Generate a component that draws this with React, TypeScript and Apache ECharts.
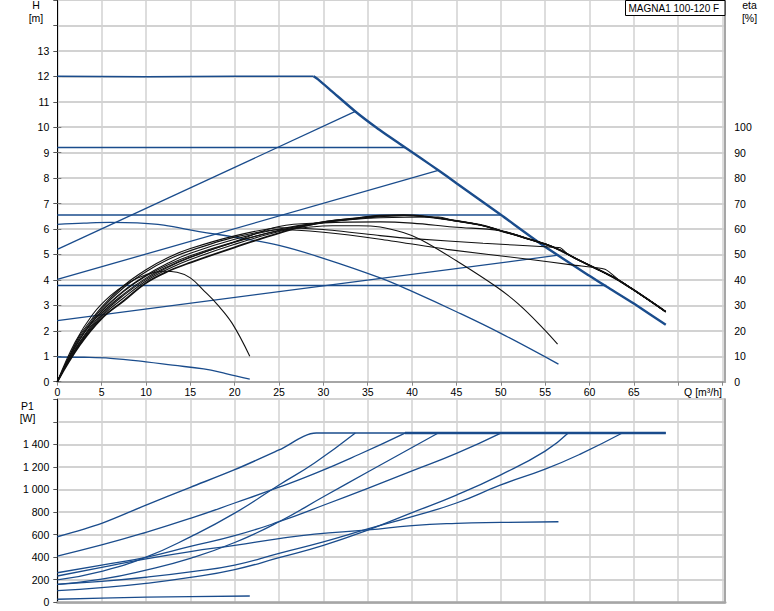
import React, { useEffect, useRef } from "react";
import * as echarts from "echarts";

// ---------- axis ranges / tick labels ----------
const Q_MIN = 0;
const Q_MAX = 75.3;
const Q_STEP = 5;
const Q_LAST_LABEL = 65;
const H_MAX = 15;
const H_LAST_LABEL = 13;
const ETA_MAX = 100;
const P_MAX = 1800;
const P_LAST_LABEL = 1400;
const TITLE = "MAGNA1 100-120 F";
const Q_UNIT = "Q [m³/h]";

// ---------- H (m) curves, [Q m³/h, H m] ----------
const maxCurveH = [[0, 12], [10, 11.98], [20, 12], [28.9, 12], [29.4, 11.88], [31, 11.4], [33.6, 10.62], [36, 9.98], [38.6, 9.35], [41, 8.78], [43, 8.3], [45, 7.8], [47.7, 7.13], [50, 6.56], [55, 5.3], [60, 4.16], [62, 3.72], [65, 3.07], [68.6, 2.24]];
const cp92H = [[0, 9.2], [39.2, 9.2]];
const cp655H = [[0, 6.55], [50, 6.55]];
const cp378H = [[0, 3.78], [61.9, 3.78]];
const ppaH = [[0, 5.2], [33.6, 10.62]];
const ppbH = [[0, 4.02], [42.95, 8.3]];
const ppcH = [[0, 2.4], [56.5, 4.97]];
const curveDH = [[0, 6.18], [3, 6.23], [6, 6.26], [9, 6.24], [12, 6.15], [16, 5.9], [20, 5.68], [25, 5.36], [30, 4.85], [36.4, 4.08], [40, 3.55], [45, 2.75], [50, 1.9], [56.5, 0.69]];
const curveEH = [[0, 0.97], [3, 0.96], [6, 0.92], [10, 0.78], [13, 0.65], [16.5, 0.5], [19, 0.32], [21.7, 0.1]];

// ---------- eta (%) curves ----------
const maxEta = [[0, 0], [2.5, 14.2], [5, 24.8], [7.5, 31.8], [10, 38.8], [12.5, 43.4], [15, 46.8], [20, 52.8], [25, 58.4], [29.2, 62.2], [33.6, 64.2], [36.4, 65.2], [39, 65.4], [42, 64.7], [44.6, 63.4], [47.7, 61.6], [50, 59.3], [53, 56.2], [55.9, 52.9], [59, 47.4], [62.7, 41], [65, 36], [68.6, 27.5]];
const cp92Eta = [[0, 0], [2.5, 14.8], [5, 25.6], [7.5, 33], [10, 39.6], [12.5, 44.3], [15, 48], [20, 54], [25, 59], [30, 62.5], [35, 64.4], [39.2, 65.3]];
const ppaEta = [[0, 0], [2.5, 15.5], [5, 26.8], [7.5, 34.5], [10, 40.7], [12.5, 45.3], [15, 49], [20, 54.8], [25, 59.5], [30, 62.8], [33.6, 64.2]];
const ppbEta = [[0, 0], [2.5, 16.6], [5, 27.8], [7.5, 35.8], [10, 41.8], [12.5, 46.6], [15, 50.5], [20, 56], [25, 60], [30, 62.6], [36.4, 64.4], [42.95, 64.7]];
const cp655Eta = [[0, 0], [2.5, 15.2], [5, 26.2], [7.5, 34], [10, 40.2], [12.5, 45], [15, 48.8], [20, 55], [25, 61], [30, 62.4], [36.4, 62.8], [40, 62.3], [44.6, 60.8], [50, 59.3]];
const ppcEta = [[0, 0], [2.5, 18], [5, 29.3], [7.5, 37.8], [10, 44], [12.5, 48.8], [15, 52.3], [20, 57.3], [25, 60.5], [30, 59.8], [36.4, 57.4], [40.1, 56.2], [48, 54.4], [55, 53], [56.7, 52.6], [57.6, 50]];
const cp378Eta = [[0, 0], [2.5, 17.3], [5, 28.6], [7.5, 37], [10, 43.2], [12.5, 48], [15, 51.5], [20, 56.8], [25, 59.8], [30, 58.7], [36.4, 56], [43.9, 52], [52.9, 48.2], [58.2, 45.8], [61.75, 44.2], [63.6, 39.1]];
const curveDEta = [[0, 0], [2.5, 16.3], [5, 27.5], [7.5, 35.5], [10, 41.5], [12.5, 46], [15, 49.5], [20, 55], [25, 59.3], [28, 60.6], [31, 61.3], [34, 61.3], [36.4, 60.8], [39, 58.6], [41, 55.8], [45, 47.5], [49.5, 37.3], [52, 30.5], [54.8, 20.9], [56.4, 14.8]];
const curveEEta = [[0, 0], [2, 15.5], [4, 26.5], [6, 33.8], [8, 38.8], [10, 42], [12, 43.4], [13.5, 43], [15, 40.8], [16.6, 35.5], [18, 30.5], [19.7, 23], [21.7, 10]];

// ---------- P1 (W) curves ----------
const maxP1 = [[0, 581], [5, 700], [10, 862], [15, 1019], [20, 1175], [25, 1350], [29.2, 1500], [68.6, 1500]];
const cp92P1 = [[0, 410], [5, 508], [10, 620], [15, 744], [20, 880], [25, 1020], [29, 1140], [34, 1310], [39.2, 1500]];
const ppaP1 = [[0, 198], [5, 275], [10, 400], [15, 580], [20, 790], [25, 1040], [29, 1235], [33.6, 1500]];
const ppbP1 = [[0, 159], [5, 205], [10, 286], [15, 390], [20, 530], [25, 714], [30, 935], [35, 1155], [42.95, 1500]];
const cp655P1 = [[0, 262], [5, 330], [10, 399], [15, 495], [20, 590], [25, 714], [30, 860], [35, 1010], [40, 1165], [45, 1320], [50, 1500]];
const ppcP1 = [[0, 103], [5, 130], [10, 168], [15, 220], [20, 290], [25, 395], [30, 505], [35, 640], [40, 795], [45, 950], [50, 1130], [55, 1340], [57.6, 1500]];
const cp378P1 = [[0, 159], [5, 185], [10, 222], [15, 270], [20, 330], [25, 434], [30, 535], [35, 650], [40, 760], [45, 880], [50, 1040], [55, 1180], [58.9, 1311], [63.7, 1500]];
const curveDP1 = [[0, 233], [5, 310], [10, 385], [15, 450], [20, 505], [25, 565], [29, 605], [35, 641], [40, 680], [45, 700], [50, 708], [56.5, 714]];
const curveEP1 = [[0, 27], [5, 37], [10, 45], [15, 51], [21.7, 56]];

// ---------- styling ----------
const BLUE = "#1a4c8c";
const BLACK = "#111111";
const GRID_C = "#d2d2d2";
const AXIS_GREY = "#a6a6a6";
const FONT = "'Liberation Sans', Arial, sans-serif";

const L = 57.3;
const W = 667.9;

const afterQ = (curve: number[][], tail: number[][]) => {
  const lastQ = curve[curve.length - 1][0];
  return curve.concat(tail.filter((p) => p[0] > lastQ));
};

const spaced = (v: number) => {
  const s = String(Math.round(v));
  return s.length > 3 ? s.slice(0, s.length - 3) + " " + s.slice(s.length - 3) : s;
};

export default function App() {
  const ref = useRef<HTMLDivElement>(null);

  useEffect(() => {
    if (!ref.current) return;
    const chart = echarts.init(ref.current, undefined, { renderer: "svg" });

    const line = (data: number[][], xi: number, yi: number, color: string, width: number, smooth: number | boolean = 0.4) => ({
      type: "line",
      data,
      xAxisIndex: xi,
      yAxisIndex: yi,
      symbol: "none",
      showSymbol: false,
      smooth,
      silent: true,
      lineStyle: { color, width },
      z: 3,
    });

    const maxFlat = maxCurveH.filter((p) => p[0] <= 28.9);
    const maxDesc = maxCurveH.filter((p) => p[0] >= 28.9);
    const p1Flat = [cp92P1[cp92P1.length - 1], maxP1[maxP1.length - 1]];

    const labelStyle = { color: "#000", fontSize: 10.5, fontFamily: FONT };
    const txt = (text: string, x: number, y: number, align = "center", size = 10.5) => ({
      type: "text",
      z: 101,
      style: { text, x, y, fill: "#000", font: `${size}px ${FONT}`, align, verticalAlign: "middle", textAlign: align, textVerticalAlign: "middle" },
    });

    const option: any = {
      animation: false,
      backgroundColor: "#ffffff",
      grid: [
        { left: L, top: 0, width: W, height: 381.7 },
        { left: L, top: 127.2, width: W, height: 254.5 },
        { left: L, top: 399.2, width: W, height: 203.1, show: true, borderColor: "#b4b4b4", borderWidth: 1 },
      ],
      xAxis: [
        {
          type: "value", gridIndex: 0, min: Q_MIN, max: Q_MAX, interval: Q_STEP,
          axisLine: { onZero: false, lineStyle: { color: AXIS_GREY, width: 2 } },
          axisTick: { show: true, length: 4, lineStyle: { color: "#888" } },
          axisLabel: { ...labelStyle, margin: 5, showMaxLabel: false, formatter: (v: number) => (v <= Q_LAST_LABEL ? String(v) : "") },
          splitLine: { show: true, lineStyle: { color: GRID_C, width: 1.5 } },
        },
        { type: "value", gridIndex: 1, min: Q_MIN, max: Q_MAX, show: false },
        {
          type: "value", gridIndex: 2, min: Q_MIN, max: Q_MAX, interval: Q_STEP,
          axisLine: { onZero: false, lineStyle: { color: AXIS_GREY, width: 2.5 } },
          axisTick: { show: false },
          axisLabel: { show: false },
          splitLine: { show: true, lineStyle: { color: GRID_C, width: 1.5 } },
        },
      ],
      yAxis: [
        {
          type: "value", gridIndex: 0, position: "left", min: 0, max: H_MAX, interval: 1,
          axisLine: { show: true, onZero: false, lineStyle: { color: "#000", width: 1 } },
          axisTick: { show: true, length: 4, lineStyle: { color: "#555" } },
          axisLabel: { ...labelStyle, margin: 8, formatter: (v: number) => (v <= H_LAST_LABEL ? String(v) : "") },
          splitLine: { show: true, lineStyle: { color: GRID_C, width: 2 } },
        },
        {
          type: "value", gridIndex: 0, position: "right", min: 0, max: H_MAX,
          axisLine: { show: true, onZero: false, lineStyle: { color: AXIS_GREY, width: 2 } },
          axisTick: { show: false }, axisLabel: { show: false }, splitLine: { show: false },
        },
        {
          type: "value", gridIndex: 1, position: "right", min: 0, max: ETA_MAX, interval: 10,
          axisLine: { show: false },
          axisTick: { show: true, length: 4, lineStyle: { color: "#777" } },
          axisLabel: { ...labelStyle, margin: 9 },
          splitLine: { show: false },
        },
        {
          type: "value", gridIndex: 2, position: "left", min: 0, max: P_MAX, interval: 200,
          axisLine: { show: true, onZero: false, lineStyle: { color: "#000", width: 1 } },
          axisTick: { show: true, length: 4, lineStyle: { color: "#555" } },
          axisLabel: { ...labelStyle, margin: 8, formatter: (v: number) => (v <= P_LAST_LABEL ? spaced(v) : "") },
          splitLine: { show: true, lineStyle: { color: GRID_C, width: 2 } },
        },
        {
          type: "value", gridIndex: 2, position: "right", min: 0, max: P_MAX,
          axisLine: { show: true, onZero: false, lineStyle: { color: AXIS_GREY, width: 2 } },
          axisTick: { show: false }, axisLabel: { show: false }, splitLine: { show: false },
        },
      ],
      series: [
        // H chart (blue)
        line(maxFlat, 0, 0, BLUE, 1.5, false),
        line(maxDesc, 0, 0, BLUE, 2.4, 0.2),
        line(cp92H, 0, 0, BLUE, 1.5, false),
        line(cp655H, 0, 0, BLUE, 1.5, false),
        line(cp378H, 0, 0, BLUE, 1.5, false),
        line(ppaH, 0, 0, BLUE, 1.3, false),
        line(ppbH, 0, 0, BLUE, 1.3, false),
        line(ppcH, 0, 0, BLUE, 1.3, false),
        line(curveDH, 0, 0, BLUE, 1.3),
        line(curveEH, 0, 0, BLUE, 1.3),
        // eta (black)
        line(maxEta, 1, 2, BLACK, 1.8),
        line(afterQ(cp92Eta, maxEta), 1, 2, BLACK, 1.1),
        line(afterQ(ppaEta, maxEta), 1, 2, BLACK, 1.1),
        line(afterQ(ppbEta, maxEta), 1, 2, BLACK, 1.1),
        line(afterQ(cp655Eta, maxEta), 1, 2, BLACK, 1.1),
        line(afterQ(ppcEta, maxEta), 1, 2, BLACK, 1.1, 0.2),
        line(afterQ(cp378Eta, maxEta), 1, 2, BLACK, 1.1, 0.2),
        line(curveDEta, 1, 2, BLACK, 1.1),
        line(curveEEta, 1, 2, BLACK, 1.1),
        // P1 (blue)
        line(maxP1, 2, 3, BLUE, 1.4, 0.3),
        line(p1Flat, 2, 3, BLUE, 2.6, false),
        line(cp92P1, 2, 3, BLUE, 1.3, 0.5),
        line(ppaP1, 2, 3, BLUE, 1.3, 0.5),
        line(ppbP1, 2, 3, BLUE, 1.3, 0.5),
        line(cp655P1, 2, 3, BLUE, 1.3, 0.5),
        line(ppcP1, 2, 3, BLUE, 1.3, 0.5),
        line(cp378P1, 2, 3, BLUE, 1.3, 0.5),
        line(curveDP1, 2, 3, BLUE, 1.3, 0.5),
        line(curveEP1, 2, 3, BLUE, 1.3, 0.5),
      ],
      graphic: [
        txt("H", 36, 5),
        txt("[m]", 36, 17.5),
        txt("eta", 749.5, 5),
        txt("[%]", 749.5, 17.5),
        txt("P1", 27.5, 405.5),
        txt("[W]", 27.5, 417.5),
        txt(Q_UNIT, 722, 391.5, "right"),
        { type: "rect", z: 100, shape: { x: 625.5, y: 0.5, width: 99.5, height: 15 }, style: { fill: "#ffffff", stroke: "#000000", lineWidth: 1 } },
        txt(TITLE, 628.5, 8.5, "left", 10),
      ],
    };

    chart.setOption(option);
    return () => chart.dispose();
  }, []);

  return (
    <div
      ref={ref}
      style={{ position: "fixed", left: 0, top: 0, width: 774, height: 611, background: "#ffffff" }}
    />
  );
}
